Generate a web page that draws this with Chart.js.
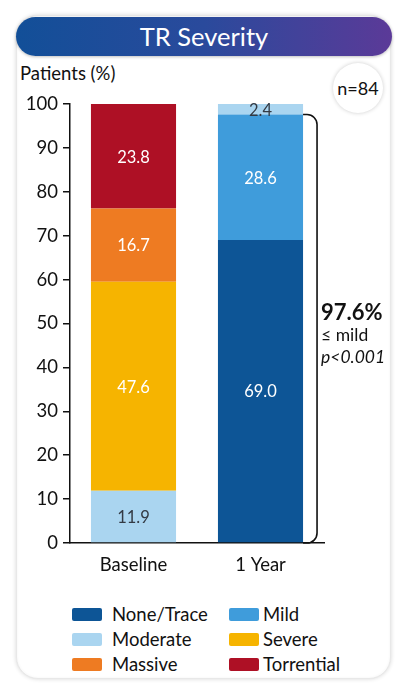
<!DOCTYPE html>
<html>
<head>
<meta charset="utf-8">
<script src="https://cdn.jsdelivr.net/npm/chart.js@4"></script>
<style>
  html, body { margin: 0; padding: 0; background: #fff; width: 398px; height: 684px; overflow: hidden; font-family: Lato, "Open Sans", sans-serif; }
  .card { position: absolute; left: 16px; top: 15px; width: 375px; height: 664px; border-radius: 22px;
          background: #fff; box-shadow: 0 0 4px rgba(0,0,0,0.16), inset 0 0 3px rgba(0,0,0,0.05); border: 1px solid #e8e8e8; box-sizing: border-box; }
  .title { position: absolute; left: 16px; top: 17px; width: 376px; height: 39px; border-radius: 20px;
           background: linear-gradient(90deg, #124f98 0%, #2a4a9c 50%, #5b3a98 100%);
           color: #fff; font-size: 25.5px; line-height: 39px; text-align: center; box-shadow: 0 1px 3px rgba(0,0,0,0.25); }
  .ylab { position: absolute; left: 20px; top: 62px; font-size: 18.5px; color: #111; }
  .badge { position: absolute; left: 333px; top: 63px; width: 50px; height: 50px; border-radius: 50%;
           background: #fff; box-shadow: 0 0 4px rgba(0,0,0,0.2); font-size: 18px; line-height: 50px; text-align: center; color: #111; }
  #wrap { position: absolute; left: 0; top: 60px; width: 398px; height: 520px; }
  .legend { position: absolute; left: 72px; top: 604px; display: grid; grid-template-columns: 157px 130px; row-gap: 5px; }
  .legend div { display: flex; align-items: center; font-size: 18.5px; color: #111; height: 20px; }
  .legend span.sw { display: inline-block; width: 30px; height: 13px; border-radius: 2px; margin-right: 10px; }
  .legend div:nth-child(2n) span.sw { margin-right: 4px; }
</style>
</head>
<body>
<div class="card"></div>
<div class="title">TR Severity</div>
<div class="ylab">Patients (%)</div>
<div class="badge">n=84</div>
<div id="wrap"><canvas id="c"></canvas></div>
<div class="legend" id="legend"></div>
<script>
// Timepoints and severity grades (stacked bottom to top)
const categories = ['Baseline', '1 Year'];
const grades = ['None/Trace', 'Mild', 'Moderate', 'Severe', 'Massive', 'Torrential'];
const colors = ['#0d5596', '#3f9cdb', '#aad5f0', '#f6b400', '#ee7b22', '#ae1025'];
const labelColors = ['#fff', '#fff', '#333a44', '#fff', '#fff', '#fff'];

// Percent of patients per grade, [Baseline, 1 Year]
const noneTrace  = [0, 69.0];
const mild       = [0, 28.6];
const moderate   = [11.9, 2.4];
const severe     = [47.6, 0];
const massive    = [16.7, 0];
const torrential = [23.8, 0];

const yTicks = [0, 10, 20, 30, 40, 50, 60, 70, 80, 90, 100];

const series = [noneTrace, mild, moderate, severe, massive, torrential];

// Legend order: two columns, row by row
const legendOrder = ['None/Trace', 'Mild', 'Moderate', 'Severe', 'Massive', 'Torrential'];
const legendEl = document.getElementById('legend');
legendOrder.forEach(name => {
  const i = grades.indexOf(name);
  const d = document.createElement('div');
  d.innerHTML = '<span class="sw" style="background:' + colors[i] + '"></span>' + name;
  legendEl.appendChild(d);
});

const FONT = 'Lato, "Open Sans", sans-serif';

// Value labels in the middle of each segment
const segmentLabels = {
  id: 'segmentLabels',
  afterDatasetsDraw(chart) {
    const ctx = chart.ctx;
    ctx.save();
    ctx.font = '16.5px ' + FONT;
    ctx.textAlign = 'center';
    ctx.textBaseline = 'middle';
    chart.data.datasets.forEach((ds, di) => {
      const meta = chart.getDatasetMeta(di);
      meta.data.forEach((bar, i) => {
        const v = ds.data[i];
        if (!v) return;
        ctx.fillStyle = labelColors[di];
        ctx.fillText(v.toFixed(1), bar.x, (bar.y + bar.base) / 2 + 1);
      });
    });
    ctx.restore();
  }
};

// Bracket spanning the ≤ mild share at 1 Year, with its annotation
const bracket = {
  id: 'bracket',
  afterDatasetsDraw(chart) {
    const ctx = chart.ctx;
    const y = chart.scales.y;
    const meta = chart.getDatasetMeta(0);
    const bar = meta.data[1];
    const share = noneTrace[1] + mild[1];
    const x0 = bar.x + bar.width / 2;
    const xr = x0 + 14;
    const top = y.getPixelForValue(share);
    const bot = y.getPixelForValue(0);
    const r = 10;
    ctx.save();
    ctx.strokeStyle = '#111';
    ctx.lineWidth = 1.6;
    ctx.beginPath();
    ctx.moveTo(x0, top);
    ctx.arcTo(xr, top, xr, top + r, r);
    ctx.lineTo(xr, bot - r);
    ctx.arcTo(xr, bot, x0, bot, r);
    ctx.lineTo(x0, bot);
    ctx.stroke();
    const tx = xr + 4;
    const ty = (top + bot) / 2 - 9;
    ctx.fillStyle = '#111';
    ctx.textAlign = 'left';
    ctx.textBaseline = 'alphabetic';
    ctx.font = 'bold 22px ' + FONT;
    ctx.fillText(share.toFixed(1) + '%', tx, ty);
    ctx.font = '17.5px ' + FONT;
    ctx.fillText('≤ mild', tx, ty + 21);
    ctx.font = 'italic 17.5px ' + FONT;
    ctx.fillText('p<0.001', tx, ty + 43);
    ctx.restore();
  }
};

new Chart(document.getElementById('c'), {
  type: 'bar',
  data: {
    labels: categories,
    datasets: grades.map((g, i) => ({
      label: g,
      data: series[i],
      backgroundColor: colors[i],
      borderWidth: 0,
      categoryPercentage: 1,
      barPercentage: 0.67
    }))
  },
  options: {
    responsive: true,
    maintainAspectRatio: false,
    animation: false,
    layout: { padding: { top: 44, right: 74, left: 0, bottom: 0 } },
    plugins: { legend: { display: false }, tooltip: { enabled: false } },
    scales: {
      x: {
        stacked: true,
        grid: { display: false },
        border: { display: true, color: '#111', width: 1.5 },
        ticks: { color: '#111', font: { family: FONT, size: 18.5 }, padding: 3 },
        afterFit(s) { s.height = 37; }
      },
      y: {
        stacked: true,
        min: 0,
        max: 100,
        afterBuildTicks(s) { s.ticks = yTicks.map(v => ({ value: v })); },
        grid: { drawOnChartArea: false, drawTicks: true, tickLength: 7, color: '#111', lineWidth: 1.5 },
        border: { display: true, color: '#111', width: 1.5 },
        ticks: { color: '#111', font: { family: FONT, size: 18.5 }, padding: 5 },
        afterFit(s) { s.width = 70; }
      }
    }
  },
  plugins: [segmentLabels, bracket]
});
</script>
</body>
</html>
